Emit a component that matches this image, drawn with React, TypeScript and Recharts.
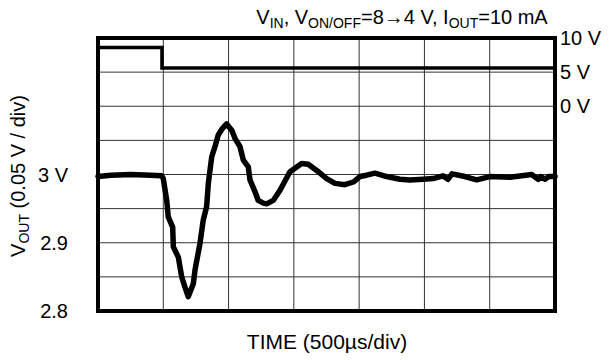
import React from "react";
import { LineChart, Line, XAxis, YAxis, CartesianGrid } from "recharts";

// time in µs (500 µs/div), VOUT in V
const voutTime = [0, 100, 250, 400, 488, 500, 526, 538, 572, 577, 615, 641, 666, 691, 730, 743, 781, 806, 832, 845, 871, 896, 921, 955, 985, 1024, 1049, 1087, 1113, 1151, 1164, 1202, 1227, 1266, 1292, 1342, 1394, 1470, 1560, 1610, 1675, 1751, 1815, 1891, 1955, 2006, 2057, 2121, 2211, 2312, 2389, 2491, 2567, 2642, 2680, 2711, 2810, 2900, 3001, 3155, 3321, 3371, 3392, 3423, 3453, 3500];
const voutValues = [2.997, 2.999, 3.0, 2.999, 2.998, 2.994, 2.9625, 2.938, 2.923, 2.894, 2.879, 2.85, 2.835, 2.821, 2.84, 2.86, 2.899, 2.933, 2.953, 2.987, 3.026, 3.041, 3.058, 3.068, 3.074, 3.065, 3.053, 3.041, 3.021, 3.011, 2.992, 2.975, 2.962, 2.958, 2.957, 2.962, 2.977, 3.004, 3.016, 3.015, 3.006, 2.994, 2.987, 2.985, 2.989, 2.997, 2.999, 3.002, 2.997, 2.993, 2.992, 2.993, 2.994, 2.998, 2.993, 3.001, 2.997, 2.992, 2.997, 2.996, 3.0, 2.993, 2.997, 2.993, 2.997, 2.997];

// V_ON/OFF step trace (right axis, V)
const stepTime = [0, 490, 490, 3500];
const stepValues = [8.6, 8.6, 5.6, 5.6];

const timeTicks = [0, 500, 1000, 1500, 2000, 2500, 3000, 3500];
const voutTicks = [2.8, 2.85, 2.9, 2.95, 3.0, 3.05, 3.1, 3.15, 3.2];
const voutTickLabels: Record<string, string> = { "2.80": "2.8", "2.90": "2.9", "3.00": "3 V" };
const rightTicks = [0, 5, 10];

const voutData = voutTime.map((t, i) => ({ t, v: voutValues[i] }));
const stepData = stepTime.map((t, i) => ({ t, s: stepValues[i] }));

const FONT = "'Liberation Sans', Arial, sans-serif";

// plot area frame (chart margins / axis widths below)
const PLOT = { left: 98, top: 38, right: 555, bottom: 311 };

export default function App() {
  return (
    <div style={{ position: "absolute", left: 0, top: 0, width: 609, height: 360, background: "#fff" }}>
      <LineChart width={609} height={360} margin={{ top: PLOT.top, right: 0, bottom: 0, left: 0 }}>
        <CartesianGrid stroke="#333" strokeWidth={1} yAxisId="left" />
        <XAxis
          dataKey="t"
          type="number"
          domain={[0, 3500]}
          ticks={timeTicks}
          interval={0}
          tickFormatter={() => ""}
          tickLine={false}
          axisLine={false}
          height={360 - PLOT.bottom}
          allowDuplicatedCategory={false}
        />
        <YAxis
          yAxisId="left"
          type="number"
          domain={[2.8, 3.2]}
          ticks={voutTicks}
          interval={0}
          width={PLOT.left}
          axisLine={false}
          tickLine={false}
          tickSize={0}
          tickMargin={30}
          tickFormatter={(v: number) => voutTickLabels[v.toFixed(2)] ?? ""}
          tick={{ fill: "#000", fontSize: 20, fontFamily: FONT }}
        />
        <YAxis
          yAxisId="right"
          orientation="right"
          type="number"
          domain={[-30, 10]}
          ticks={rightTicks}
          interval={0}
          width={609 - PLOT.right}
          axisLine={false}
          tickLine={false}
          tickSize={0}
          tickMargin={5}
          tickFormatter={(v: number) => `${v} V`}
          tick={{ fill: "#000", fontSize: 20, fontFamily: FONT }}
        />
        <Line
          yAxisId="right"
          data={stepData}
          dataKey="s"
          type="linear"
          stroke="#000"
          strokeWidth={3.5}
          dot={false}
          isAnimationActive={false}
        />
        <Line
          yAxisId="left"
          data={voutData}
          dataKey="v"
          type="linear"
          stroke="#000"
          strokeWidth={5.5}
          strokeLinejoin="round"
          strokeLinecap="round"
          dot={false}
          isAnimationActive={false}
        />
        <rect
          x={PLOT.left}
          y={PLOT.top}
          width={PLOT.right - PLOT.left}
          height={PLOT.bottom - PLOT.top}
          fill="none"
          stroke="#000"
          strokeWidth={4}
        />
        <text x={402} y={24} textAnchor="middle" fontSize={20} fontFamily={FONT} fill="#000">
          V<tspan fontSize={14} dy={4}>IN</tspan>
          <tspan dy={-4}>, V</tspan>
          <tspan fontSize={14} dy={4}>ON/OFF</tspan>
          <tspan dy={-4}>=8→4 V, I</tspan>
          <tspan fontSize={14} dy={4}>OUT</tspan>
          <tspan dy={-4}>=10 mA</tspan>
        </text>
        <text
          x={25}
          y={176}
          transform="rotate(-90, 25, 176)"
          textAnchor="middle"
          fontSize={20}
          fontFamily={FONT}
          fill="#000"
        >
          V<tspan fontSize={14} dy={4}>OUT</tspan>
          <tspan dy={-4}> (0.05 V / div)</tspan>
        </text>
        <text x={327} y={349} textAnchor="middle" fontSize={21} fontFamily={FONT} fill="#000">
          TIME (500µs/div)
        </text>
      </LineChart>
    </div>
  );
}
